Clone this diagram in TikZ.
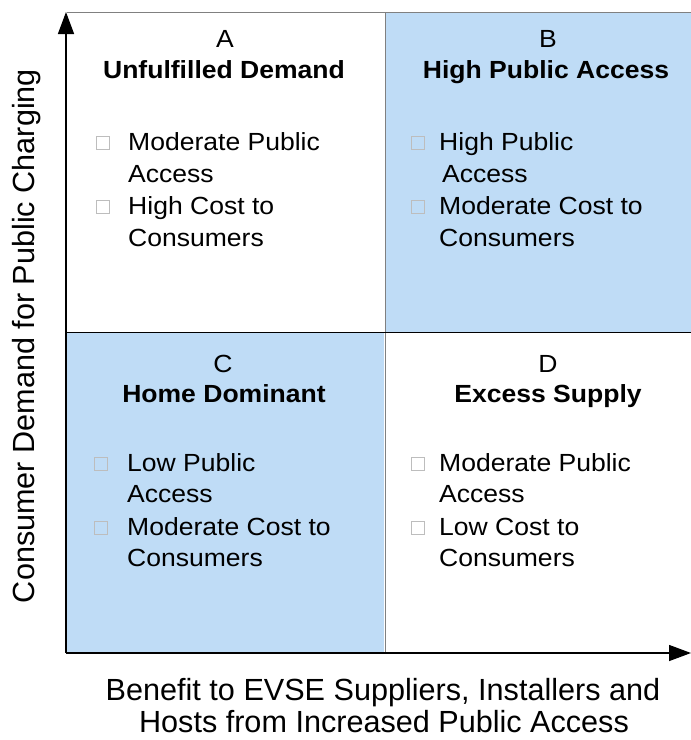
\documentclass[tikz,border=0pt]{standalone}
\usepackage{fontspec}
\setmainfont{Liberation Sans}
\usetikzlibrary{arrows.meta}
\definecolor{qblue}{HTML}{BFDCF6}
\definecolor{qgray}{HTML}{808080}
\definecolor{boxgray}{HTML}{BDBDBD}
\newcommand{\wide}[1]{\scalebox{1.07}[1]{#1}}
\begin{document}
\begin{tikzpicture}[x=1pt,y=-1pt,
  txt/.style={anchor=base west,inner sep=0pt,font=\fontsize{24.8}{30}\selectfont},
  ttl/.style={anchor=base,inner sep=0pt,font=\fontsize{24.8}{30}\selectfont\bfseries},
  letter/.style={anchor=base,inner sep=0pt,font=\fontsize{24.8}{30}\selectfont},
  chk/.style={draw=boxgray,line width=0.8pt,minimum size=13pt,inner sep=0pt,anchor=south west},
  axlab/.style={anchor=base,inner sep=0pt,font=\fontsize{30.6}{34}\selectfont},
  axis/.style={line width=1.4pt,-{Triangle[length=22pt,width=16pt]}},
  divl/.style={line width=0.8pt,draw=qgray}]
\useasboundingbox (0,0) rectangle (691,740);
% fills
\fill[qblue] (385,12) rectangle (691,332);
\fill[qblue] (67,333) rectangle (384,652);
% dividers
\draw[divl] (67,12) -- (691,12);
\draw[divl] (385,12) -- (385,652);
\draw[line width=0.8pt] (67,332.5) -- (691,332.5);
% axes
\coordinate (o) at (66,653);
\coordinate (ytop) at (66,12);
\coordinate (xend) at (691,653);
\draw[axis] (o) -- (ytop);
\draw[axis] (o) -- (xend);
% A
\node[letter] (la) at (225,47) {\wide{A}};
\node[ttl] (ta) at (224,78) {\wide{Unfulfilled Demand}};
\node[chk] (ca1) at (96,150) {};
\node[txt] (a1) at (128,150) {\wide{Moderate Public}};
\node[txt] (a2) at (128,182) {\wide{Access}};
\node[chk] (ca2) at (96,214) {};
\node[txt] (a3) at (128,214) {\wide{High Cost to}};
\node[txt] (a4) at (128,246) {\wide{Consumers}};
% B
\node[letter] (lb) at (548,47) {\wide{B}};
\node[ttl] (tb) at (546,78) {\wide{High Public Access}};
\node[chk] (cb1) at (411,150) {};
\node[txt] (b1) at (439,150) {\wide{High Public}};
\node[txt] (b2) at (442,182) {\wide{Access}};
\node[chk] (cb2) at (411,214) {};
\node[txt] (b3) at (439,214) {\wide{Moderate Cost to}};
\node[txt] (b4) at (439,246) {\wide{Consumers}};
% C
\node[letter] (lc) at (223,372) {\wide{C}};
\node[ttl] (tc) at (224,402) {\wide{Home Dominant}};
\node[chk] (cc1) at (94,471) {};
\node[txt] (c1) at (127,471) {\wide{Low Public}};
\node[txt] (c2) at (127,502) {\wide{Access}};
\node[chk] (cc2) at (94,535) {};
\node[txt] (c3) at (127,535) {\wide{Moderate Cost to}};
\node[txt] (c4) at (127,566) {\wide{Consumers}};
% D
\node[letter] (ld) at (548,372) {\wide{D}};
\node[ttl] (td) at (548,402) {\wide{Excess Supply}};
\node[chk] (cd1) at (411,471) {};
\node[txt] (d1) at (439,471) {\wide{Moderate Public}};
\node[txt] (d2) at (439,502) {\wide{Access}};
\node[chk] (cd2) at (411,535) {};
\node[txt] (d3) at (439,535) {\wide{Low Cost to}};
\node[txt] (d4) at (439,566) {\wide{Consumers}};
% axis labels
\node[axlab] (xl1) at (383,700) {Benefit to EVSE Suppliers, Installers and};
\node[axlab] (xl2) at (384,732) {Hosts from Increased Public Access};
\node[axlab,anchor=center,rotate=90] (yl) at (27,336) {Consumer Demand for Public Charging};
\end{tikzpicture}
\end{document}
